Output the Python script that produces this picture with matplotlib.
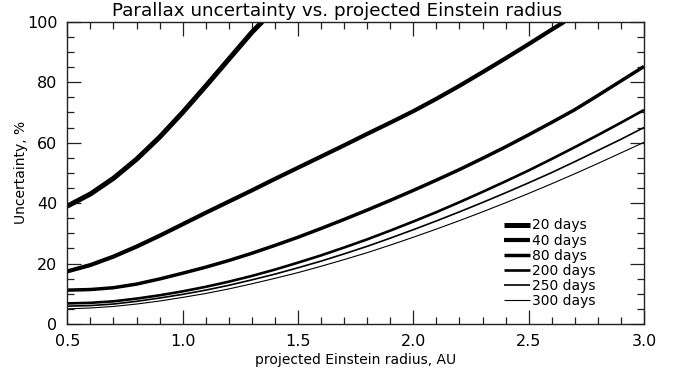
import numpy as np
import matplotlib
matplotlib.use('Agg')
import matplotlib.pyplot as plt
from matplotlib.ticker import MultipleLocator

# projected Einstein radius, AU
x_full = [0.5, 0.6, 0.7, 0.8, 0.9, 1.0, 1.1, 1.2, 1.3, 1.4, 1.5, 1.6, 1.7,
          1.8, 1.9, 2.0, 2.1, 2.2, 2.3, 2.4, 2.5, 2.6, 2.7, 2.8, 2.9, 3.0]

x_20 = [0.5, 0.6, 0.7, 0.8, 0.9, 1.0, 1.1, 1.2, 1.3, 1.345]
y_20 = [39.0, 43.0, 48.2, 54.5, 61.8, 70.0, 78.7, 87.6, 96.5, 100.0]

x_40 = [0.5, 0.6, 0.7, 0.8, 0.9, 1.0, 1.1, 1.2, 1.3, 1.4, 1.5, 1.6, 1.7,
        1.8, 1.9, 2.0, 2.1, 2.2, 2.3, 2.4, 2.5, 2.6, 2.655]
y_40 = [17.4, 19.5, 22.3, 25.6, 29.2, 33.0, 36.8, 40.5, 44.2, 48.0, 51.7,
        55.4, 59.1, 62.9, 66.6, 70.4, 74.5, 78.8, 83.3, 87.9, 92.6, 97.4, 100.0]

y_80 = [11.2, 11.4, 12.0, 13.2, 14.9, 16.8, 18.8, 21.0, 23.4, 26.0, 28.7,
        31.6, 34.6, 37.7, 40.9, 44.2, 47.6, 51.1, 54.8, 58.6, 62.6, 66.7,
        70.9, 75.6, 80.4, 85.2]
y_200 = [6.8, 7.0, 7.5, 8.4, 9.5, 10.8, 12.3, 14.0, 15.9, 18.0, 20.3, 22.7,
         25.3, 28.0, 30.9, 33.9, 37.0, 40.3, 43.7, 47.2, 50.8, 54.6, 58.5,
         62.5, 66.6, 70.8]
y_250 = [5.9, 6.1, 6.6, 7.5, 8.6, 9.8, 11.2, 12.8, 14.6, 16.5, 18.6, 20.8,
         23.2, 25.7, 28.4, 31.2, 34.1, 37.1, 40.2, 43.4, 46.7, 50.1, 53.7,
         57.4, 61.1, 65.0]
y_300 = [5.0, 5.3, 5.8, 6.6, 7.6, 8.8, 10.1, 11.6, 13.3, 15.1, 17.0, 19.1,
         21.3, 23.6, 26.1, 28.7, 31.4, 34.2, 37.1, 40.1, 43.2, 46.4, 49.7,
         53.1, 56.6, 60.1]

labels = ['20 days', '40 days', '80 days', '200 days', '250 days', '300 days']
series = [(x_20, y_20), (x_40, y_40), (x_full, y_80),
          (x_full, y_200), (x_full, y_250), (x_full, y_300)]
widths = [3.6, 3.0, 2.5, 1.9, 1.2, 0.8]

plt.rcParams['font.family'] = ['DejaVu Sans']

fig = plt.figure(figsize=(6.74, 3.77), dpi=100)
ax = fig.add_axes([0.0999, 0.1406, 0.8556, 0.8018])

for (xs, ys), lab, lw in zip(series, labels, widths):
    ax.plot(xs, ys, color='black', lw=lw, label=lab, solid_capstyle='butt')

ax.set_xlim(0.5, 3.0)
ax.set_ylim(0, 100)
ax.xaxis.set_major_locator(MultipleLocator(0.5))
ax.xaxis.set_minor_locator(MultipleLocator(0.1))
ax.yaxis.set_major_locator(MultipleLocator(20))
ax.yaxis.set_minor_locator(MultipleLocator(5))
ax.set_xticks([0.5, 1.0, 1.5, 2.0, 2.5, 3.0])
ax.set_xticklabels(['0.5', '1.0', '1.5', '2.0', '2.5', '3.0'])
ax.tick_params(which='both', direction='in', top=True, right=True,
               labelsize=11.5, color='#222222', pad=7)
ax.tick_params(which='major', length=10, width=0.9)
ax.tick_params(which='minor', length=5, width=0.9)
for s in ax.spines.values():
    s.set_linewidth(1.0)
    s.set_color('#222222')

# title centred on the whole figure, as in the original
fig.text(0.5, 0.958, 'Parallax uncertainty vs. projected Einstein radius',
         fontsize=13.2, ha='center', va='baseline')
ax.set_xlabel('projected Einstein radius, AU', fontsize=10, labelpad=3)
ax.set_ylabel('Uncertainty, %', fontsize=10, labelpad=-1)

leg = ax.legend(loc='lower left', bbox_to_anchor=(0.745, 0.03), frameon=False,
                fontsize=10, handlelength=1.9, handletextpad=0.15,
                labelspacing=0.08, borderpad=0)

fig.savefig('out.png', dpi=100)
